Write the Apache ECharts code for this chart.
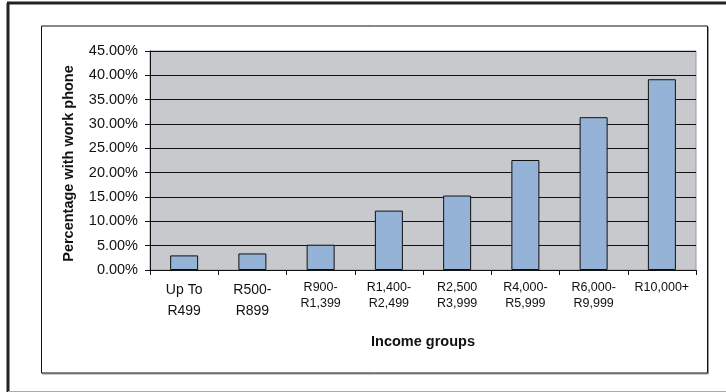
<!DOCTYPE html>
<html>
<head>
<meta charset="utf-8">
<script src="https://cdn.jsdelivr.net/npm/echarts@6/dist/echarts.min.js"></script>
<style>
html,body{margin:0;padding:0;background:#fff;}
#chart{width:726px;height:392px;}
</style>
</head>
<body>
<div id="chart"></div>
<script>
const categories = ["Up To\nR499", "R500-\nR899", "R900-\nR1,399", "R1,400-\nR2,499", "R2,500\nR3,999", "R4,000-\nR5,999", "R6,000-\nR9,999", "R10,000+"];
const values = [3.0, 3.4, 5.2, 12.2, 15.3, 22.6, 31.4, 39.2];
const yMin = 0, yMax = 45, yStep = 5;
const xTitle = "Income groups";
const yTitle = "Percentage with work phone";

const FONT = "'Liberation Sans', Arial, sans-serif";
const chart = echarts.init(document.getElementById('chart'), null, {renderer: 'canvas'});
chart.setOption({
  animation: false,
  backgroundColor: '#fff',
  graphic: [
    {type: 'line', shape: {x1: 8, y1: 3, x2: 8, y2: 392}, style: {stroke: '#222', lineWidth: 3}},
    {type: 'line', shape: {x1: 7, y1: 3, x2: 726, y2: 3}, style: {stroke: '#222', lineWidth: 3}},
    {type: 'line', shape: {x1: 8, y1: 391.5, x2: 726, y2: 391.5}, style: {stroke: '#aaa', lineWidth: 1}},
    {type: 'rect', shape: {x: 42.5, y: 27, width: 666, height: 347}, style: {fill: 'none', stroke: '#999', lineWidth: 1}, z: -1},
    {type: 'rect', shape: {x: 41.5, y: 26, width: 666, height: 347}, style: {fill: '#fff', stroke: '#111', lineWidth: 1}, z: -1}
  ],
  grid: {left: 150, top: 51, width: 546, height: 219, show: true, backgroundColor: '#C8C9CD', borderColor: '#999', borderWidth: 1, containLabel: false},
  xAxis: {
    type: 'category',
    data: categories,
    boundaryGap: true,
    name: xTitle,
    nameLocation: 'middle',
    nameGap: 64,
    nameTextStyle: {fontFamily: FONT, fontSize: 14.5, fontWeight: 'bold', color: '#111'},
    axisLine: {show: true, lineStyle: {color: '#111', width: 1}},
    axisTick: {show: true, alignWithLabel: false, length: 5, lineStyle: {color: '#111'}},
    axisLabel: {
      interval: 0, margin: 10, color: '#111', fontFamily: FONT,
      formatter: function (v, i) {
        const k = i < 2 ? 'b' : 's';
        return v.split('\n').map(l => '{' + k + '|' + l + '}').join('\n');
      },
      rich: {
        b: {fontFamily: FONT, fontSize: 14, lineHeight: 21, color: '#111'},
        s: {fontFamily: FONT, fontSize: 12.5, lineHeight: 16, color: '#111'}
      }
    },
    splitLine: {show: false}
  },
  yAxis: {
    type: 'value',
    min: yMin, max: yMax, interval: yStep,
    name: yTitle,
    nameLocation: 'middle',
    nameRotate: 90,
    nameGap: 74,
    nameTextStyle: {fontFamily: FONT, fontSize: 14.5, fontWeight: 'bold', color: '#111', padding: [0, 6, 0, 0]},
    axisLine: {show: true, lineStyle: {color: '#111', width: 1}},
    axisTick: {show: true, length: 5, lineStyle: {color: '#111'}},
    axisLabel: {
      margin: 12, color: '#111', fontFamily: FONT, fontSize: 14.5,
      formatter: v => v.toFixed(2) + '%'
    },
    splitLine: {show: true, lineStyle: {color: '#111', width: 1}}
  },
  series: [{
    type: 'bar',
    data: values,
    barWidth: 28,
    itemStyle: {color: '#95B3D7', borderColor: '#111', borderWidth: 1}
  }]
});
</script>
</body>
</html>
